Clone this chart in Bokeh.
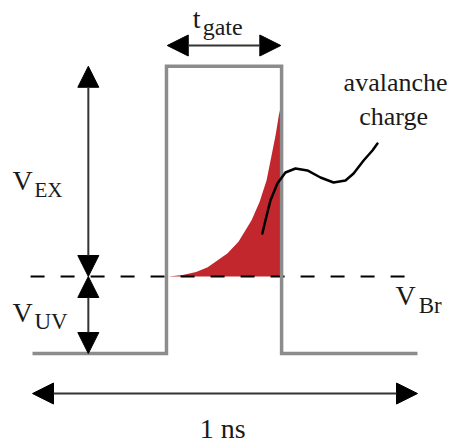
from bokeh.plotting import figure
from bokeh.models import Range1d, Arrow, NormalHead, Label
from bokeh.embed import file_html
from bokeh.resources import INLINE

# ---- data (time in ns, voltage in units of V_UV) ----
pulse_t = [0.0, 0.348, 0.348, 0.647, 0.647, 1.0]
pulse_v = [0.0, 0.0, 3.73, 3.73, 0.0, 0.0]

v_br = 1.0
v_top = 3.73
dash_t = [-0.005, 0.975]

charge_t = [0.353, 0.390, 0.425, 0.455, 0.506, 0.535, 0.569, 0.590, 0.608, 0.620, 0.632, 0.640, 0.647]
charge_v = [1.0, 1.02, 1.06, 1.12, 1.30, 1.45, 1.73, 1.97, 2.25, 2.55, 2.85, 3.10, 3.24]

squiggle_t = [0.597, 0.605, 0.618, 0.636, 0.657, 0.683, 0.714, 0.748, 0.782, 0.813, 0.834, 0.860, 0.883, 0.896]
squiggle_v = [1.558, 1.727, 1.987, 2.208, 2.351, 2.403, 2.377, 2.286, 2.221, 2.247, 2.338, 2.506, 2.636, 2.727]

vex_arrow_t = 0.145
gate_arrow = (0.350, 0.645, 4.0)
ns_arrow = (0.0, 1.0, -0.52)

# labels: (text, t, v, font px, align)
labels = [
    ("t", 0.416, 4.21, 28, "left"),
    ("gate", 0.442, 4.13, 24, "left"),
    ("V", -0.052, 2.117, 28, "left"),
    ("EX", 0.005, 2.026, 21, "left"),
    ("V", -0.052, 0.403, 28, "left"),
    ("UV", 0.005, 0.299, 23, "left"),
    ("V", 0.943, 0.623, 28, "left"),
    ("Br", 1.003, 0.519, 23, "left"),
    ("avalanche", 0.943, 3.39, 26, "center"),
    ("charge", 0.938, 2.948, 26, "center"),
    ("1 ns", 0.494, -1.104, 28, "center"),
]

GRAY = "#8c8c8c"
RED = "#c1272d"
PX_PER_V = 77

p = figure(width=453, height=443, output_backend="svg", toolbar_location=None,
           x_axis_type=None, y_axis_type=None,
           x_range=Range1d(-32 / 385, (453 - 32) / 385),
           y_range=Range1d((353 - 443) / PX_PER_V, 353 / PX_PER_V),
           min_border=0, outline_line_color=None)
p.grid.visible = False
p.background_fill_color = "white"
p.border_fill_color = "white"

p.varea(x=charge_t, y1=[v_br] * len(charge_t), y2=charge_v, fill_color=RED)
p.line(dash_t, [v_br, v_br], line_color="black", line_width=1.8, line_dash="14 16")
p.line(pulse_t, pulse_v, line_color=GRAY, line_width=3.5, line_join="miter")
p.line(squiggle_t, squiggle_v, line_color="black", line_width=2.5,
       line_join="round", line_cap="round")

def head():
    return NormalHead(size=21, fill_color="black", line_color="black", line_width=1)

def arrow(x0, y0, x1, y1):
    p.add_layout(Arrow(start=head(), end=head(), x_start=x0, y_start=y0,
                       x_end=x1, y_end=y1, line_color="#333333", line_width=2))

arrow(vex_arrow_t, v_br, vex_arrow_t, v_top)
arrow(vex_arrow_t, v_br, vex_arrow_t, 0.0)
arrow(gate_arrow[0], gate_arrow[2], gate_arrow[1], gate_arrow[2])
arrow(ns_arrow[0], ns_arrow[2], ns_arrow[1], ns_arrow[2])

for s, x, y, size, align in labels:
    # lift so that the glyph baseline sits on the anchor
    y_adj = y + 0.37 * size / PX_PER_V
    p.add_layout(Label(x=x, y=y_adj, text=s, text_font="Liberation Serif",
                       text_font_size=f"{size}px", text_color="#1a1a1a",
                       text_align=align, text_baseline="alphabetic"))

open("out.html", "w").write(file_html(p, INLINE))
